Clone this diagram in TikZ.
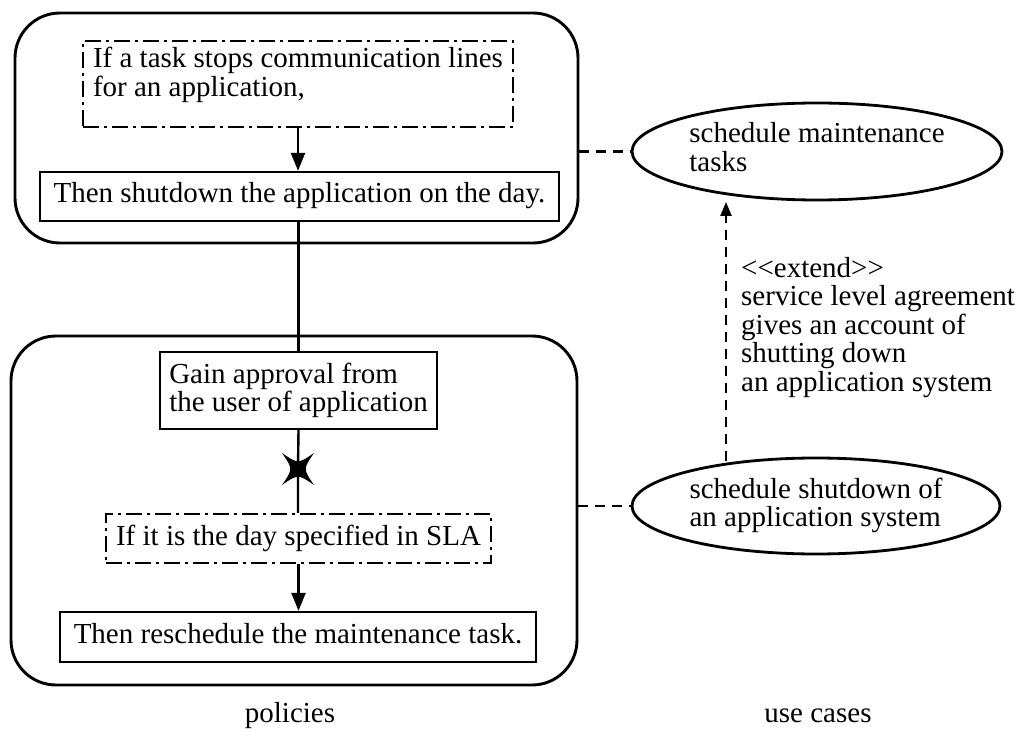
\documentclass[tikz,border=0pt]{standalone}
\usepackage{fontspec}
\setmainfont{Liberation Serif}
\usetikzlibrary{arrows.meta,shapes.geometric}
\begin{document}
\begin{tikzpicture}[x=1pt,y=-1pt,
  every node/.style={font=\fontsize{29pt}{28.5pt}\selectfont},
  group/.style={draw, line width=2.9pt, rounded corners=45pt, inner sep=0pt},
  actbox/.style={draw, line width=2.4pt, inner sep=0pt, align=left},
  condbox/.style={actbox, dash pattern=on 16pt off 5pt on 3pt off 5pt},
  usecase/.style={draw, ellipse, line width=2.8pt, inner sep=0pt, align=left},
  flow/.style={line width=2.4pt},
  flowarrow/.style={flow, -{Triangle[length=18pt,width=14pt]}},
  assoc/.style={line width=2.4pt, dash pattern=on 10pt off 7pt},
  extendarrow/.style={assoc, -{Triangle[length=14pt,width=11pt]}},
]
\useasboundingbox (0,0) rectangle (1018,746);

% policy groups
\node[group, minimum width=563pt, minimum height=230pt] (topgrp) at (296.5,128) {};
\node[group, minimum width=566pt, minimum height=349pt] (botgrp) at (294,510.5) {};

% first policy (text height/depth measured from the last line's baseline)
\node[condbox, minimum width=430pt, minimum height=86pt, text height=48.5pt, text depth=23.5pt] (cond1) at (298,84)
  {If a task stops communication lines\\for an application,};
\node[actbox, minimum width=519pt, minimum height=49pt, text height=20pt, text depth=7pt] (then1) at (299.5,196.5)
  {Then shutdown the application on the day.};

% second policy
\node[actbox, minimum width=277pt, minimum height=77pt, text height=48.5pt, text depth=6.5pt] (gain) at (298.5,390.5)
  {Gain approval from\\the user of application};
\node[condbox, minimum width=385pt, minimum height=49pt, text height=20pt, text depth=7pt] (cond2) at (298.5,538.5)
  {If it is the day specified in SLA};
\node[actbox, minimum width=476pt, minimum height=50pt, text height=20pt, text depth=8pt] (then2) at (298,637)
  {Then reschedule the maintenance task.};

% use cases
\node[usecase, minimum width=370pt, minimum height=97pt, text height=48.5pt, text depth=8.5pt] (uc1) at (817,151.5)
  {schedule maintenance\\tasks};
\node[usecase, minimum width=368pt, minimum height=96pt, text height=48.5pt, text depth=7.5pt] (uc2) at (816,506)
  {schedule shutdown of\\an application system};

% flow inside the policies
\draw[flowarrow] (cond1.south) -- (cond1.south |- then1.north);
\draw[flow] (gain.north |- then1.south) -- (gain.north);
\node[inner sep=0pt, minimum size=32pt] (stop) at (298,469) {};
\draw[flow] (gain.south) -- (stop.center) -- (stop.center |- cond2.north);
\fill[shift={(stop.center)}] (-16,-16) .. controls (0,-5) .. (16,-16)
  .. controls (5,0) .. (16,16) .. controls (0,5) .. (-16,16)
  .. controls (-5,0) .. cycle;
\draw[flowarrow] (cond2.south) -- (cond2.south |- then2.north);

% associations between policies and use cases
\draw[assoc] (uc1.west -| topgrp.east) -- (uc1.west);
\draw[assoc] (uc2.west -| botgrp.east) -- (uc2.west);

% extend relation
\coordinate (extfrom) at (726,461);
\coordinate (extto) at (726,202);
\draw[extendarrow] (extfrom) -- (extto);
\node[anchor=base west, inner sep=0pt, align=left] (extlbl) at (741,391)
  {<\kern0pt<extend>\kern0pt>\\service level agreement\\gives an account of\\shutting down\\an application system};

% captions
\node[anchor=base] (pol) at (290,722) {policies};
\node[anchor=base] (ucl) at (818,722) {use cases};
\end{tikzpicture}
\end{document}
